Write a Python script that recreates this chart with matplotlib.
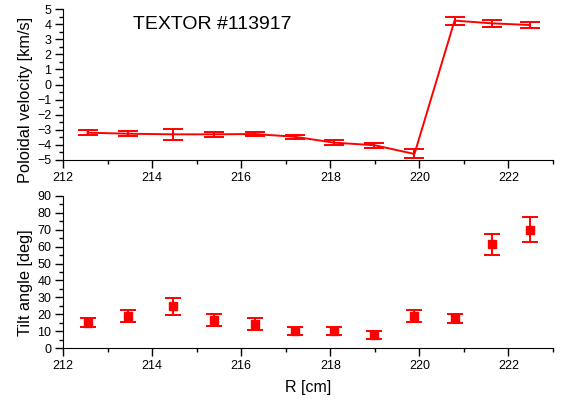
import numpy as np
import matplotlib
matplotlib.use("Agg")
import matplotlib.pyplot as plt
from matplotlib.ticker import MultipleLocator

plt.rcParams['font.family'] = ['Liberation Sans', 'DejaVu Sans']

# radial positions [cm]
r_pos = [212.55, 213.46, 214.46, 215.40, 216.30, 217.20,
         218.08, 218.99, 219.89, 220.79, 221.63, 222.48]

# poloidal velocity [km/s] and errors
v_pol = [-3.19, -3.26, -3.30, -3.30, -3.28, -3.46,
         -3.85, -4.02, -4.60, 4.23, 4.05, 3.94]
v_err = [0.15, 0.18, 0.35, 0.18, 0.15, 0.13,
         0.17, 0.17, 0.30, 0.27, 0.22, 0.22]

# tilt angle [deg] and errors
tilt = [15.1, 19.0, 24.9, 16.7, 14.2, 10.2,
        10.2, 7.8, 19.0, 17.7, 61.3, 69.8]
tilt_err = [2.5, 3.7, 5.0, 3.7, 3.7, 2.6,
            2.6, 2.4, 3.7, 2.6, 6.4, 7.4]

fig = plt.figure(figsize=(5.65, 4.03), dpi=100)
ax1 = fig.add_axes([63/565, 1-160/403, 490/565, 151/403])
ax2 = fig.add_axes([63/565, 1-348.3/403, 490/565, 152.6/403])

ax1.errorbar(r_pos, v_pol, yerr=v_err, color='red', lw=1.4,
             capsize=7, capthick=1.4, elinewidth=1.4)
ax1.set_ylim(-5, 5)
ax1.yaxis.set_major_locator(MultipleLocator(1))
ax1.yaxis.set_minor_locator(MultipleLocator(0.5))
ax1.set_ylabel('Poloidal velocity [km/s]', fontsize=11.8)
ax1.yaxis.set_label_coords(-0.061, 0.40)
ax1.text(213.57, 4.0, 'TEXTOR #113917', fontsize=14, va='center')

ax2.errorbar(r_pos, tilt, yerr=tilt_err, color='red', fmt='s', ms=5.2,
             capsize=6, capthick=1.4, elinewidth=1.4)
ax2.set_ylim(0, 90)
ax2.yaxis.set_major_locator(MultipleLocator(10))
ax2.yaxis.set_minor_locator(MultipleLocator(5))
ax2.set_ylabel('Tilt angle [deg]', fontsize=11.8)
ax2.yaxis.set_label_coords(-0.061, 0.43)
ax2.set_xlabel('R [cm]', fontsize=11.5, labelpad=6)

for ax in (ax1, ax2):
    ax.set_xlim(212, 223)
    ax.xaxis.set_major_locator(MultipleLocator(2))
    ax.xaxis.set_minor_locator(MultipleLocator(1))
    ax.spines['top'].set_visible(False)
    ax.spines['right'].set_visible(False)
    ax.tick_params(which='major', length=5.5, width=1, labelsize=9, pad=3)
    ax.tick_params(which='minor', length=3, width=1)

fig.savefig('out.png', dpi=100)
